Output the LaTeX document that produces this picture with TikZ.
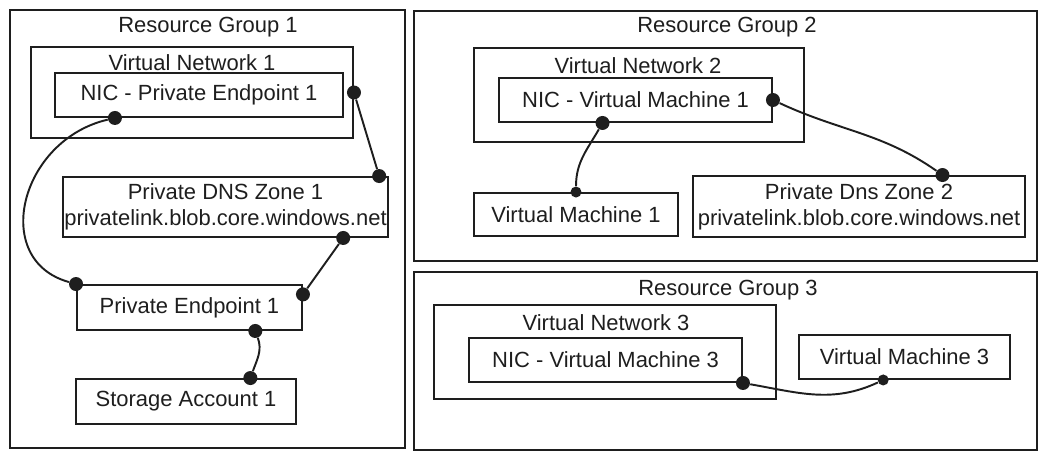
\documentclass[tikz,border=0pt]{standalone}
\usepackage{fontspec}
\setmainfont{Liberation Sans}
\usetikzlibrary{calc}

\definecolor{ink}{HTML}{1E1E1E}

\tikzset{
  box/.style={draw=ink, line width=1.1pt, rectangle, inner sep=0pt, text=ink,
    font=\fontsize{12.5}{15}\selectfont, align=center},
  grouplabel/.style={text=ink, font=\fontsize{12.5}{15}\selectfont},
  joint/.style={circle, fill=ink, inner sep=0pt, minimum size=.28cm},
  smalljoint/.style={joint, minimum size=.22cm},
  link/.style={draw=ink, line width=1.1pt}
}

\begin{document}
\begin{tikzpicture}
\useasboundingbox (0,0) rectangle (20.96,9.2);

% Resource Group 1
\node[box, minimum width=7.9cm, minimum height=8.76cm] (RG1) at (4.15,4.62) {};
\node[grouplabel] (RG1l) at (4.16,8.66) {Resource Group 1};
\node[box, minimum width=6.44cm, minimum height=1.82cm] (VN1) at (3.84,7.35) {};
\node[grouplabel] (VN1l) at (3.84,7.94) {Virtual Network 1};
\node[box, minimum width=5.76cm, minimum height=.88cm] (NICPE1) at (3.98,7.3) {NIC - Private Endpoint 1};
\node[box, minimum width=6.5cm, minimum height=1.2cm] (DNS1) at (4.51,5.06) {Private DNS Zone 1\\privatelink.blob.core.windows.net};
\node[box, minimum width=4.5cm, minimum height=.9cm] (PE1) at (3.79,3.05) {Private Endpoint 1};
\node[box, minimum width=4.4cm, minimum height=.9cm] (SA1) at (3.72,1.17) {Storage Account 1};

% Resource Group 2
\node[box, minimum width=12.46cm, minimum height=5cm] (RG2) at (14.51,6.48) {};
\node[grouplabel] (RG2l) at (14.54,8.66) {Resource Group 2};
\node[box, minimum width=6.6cm, minimum height=1.88cm] (VN2) at (12.78,7.3) {};
\node[grouplabel] (VN2l) at (12.76,7.88) {Virtual Network 2};
\node[box, minimum width=5.46cm, minimum height=.88cm] (NICVM1) at (12.71,7.2) {NIC - Virtual Machine 1};
\node[box, minimum width=4.08cm, minimum height=.86cm] (VM1) at (11.52,4.91) {Virtual Machine 1};
\node[box, minimum width=6.64cm, minimum height=1.22cm] (DNS2) at (17.18,5.07) {Private Dns Zone 2\\privatelink.blob.core.windows.net};

% Resource Group 3
\node[box, minimum width=12.46cm, minimum height=3.56cm] (RG3) at (14.51,1.98) {};
\node[grouplabel] (RG3l) at (14.56,3.4) {Resource Group 3};
\node[box, minimum width=6.84cm, minimum height=1.88cm] (VN3) at (12.1,2.16) {};
\node[grouplabel] (VN3l) at (12.12,2.74) {Virtual Network 3};
\node[box, minimum width=5.46cm, minimum height=.88cm] (NICVM3) at (12.11,2.0) {NIC - Virtual Machine 3};
\node[box, minimum width=4.22cm, minimum height=.88cm] (VM3) at (18.09,2.06) {Virtual Machine 3};

% joints
\node[joint] (J1) at ($(NICPE1.south west)!.21!(NICPE1.south east)$) {};
\node[joint] (J2) at (PE1.north west) {};
\node[joint] (J3) at (VN1.east) {};
\node[joint] (J4) at ($(DNS1.north west)!.97!(DNS1.north east)$) {};
\node[joint] (J5) at ($(DNS1.south west)!.86!(DNS1.south east)$) {};
\node[joint] (J6) at ($(PE1.north east)!.22!(PE1.south east)$) {};
\node[joint] (J7) at ($(PE1.south west)!.79!(PE1.south east)$) {};
\node[joint] (J8) at ($(SA1.north west)!.79!(SA1.north east)$) {};
\node[joint] (J9) at ($(NICVM1.south west)!.38!(NICVM1.south east)$) {};
\node[smalljoint] (J10) at (VM1.north) {};
\node[joint] (J11) at (NICVM1.east) {};
\node[joint] (J12) at ($(DNS2.north west)!.75!(DNS2.north east)$) {};
\node[joint] (J13) at (NICVM3.south east) {};
\node[smalljoint] (J14) at ($(VM3.south west)!.4!(VM3.south east)$) {};

% links
\draw[link] (J1) .. controls (.4,6.4) and (-.2,4) .. (J2);
\draw[link] (J3) -- (J4);
\draw[link] (J5) -- (J6);
\draw[link] (J7) to[out=-70, in=70] (J8);
\draw[link] (J9) to[out=240, in=90] (J10);
\draw[link] (J11) to[out=-25, in=145] (J12);
\draw[link] (J13) to[out=-10, in=205] (J14);
\end{tikzpicture}
\end{document}
